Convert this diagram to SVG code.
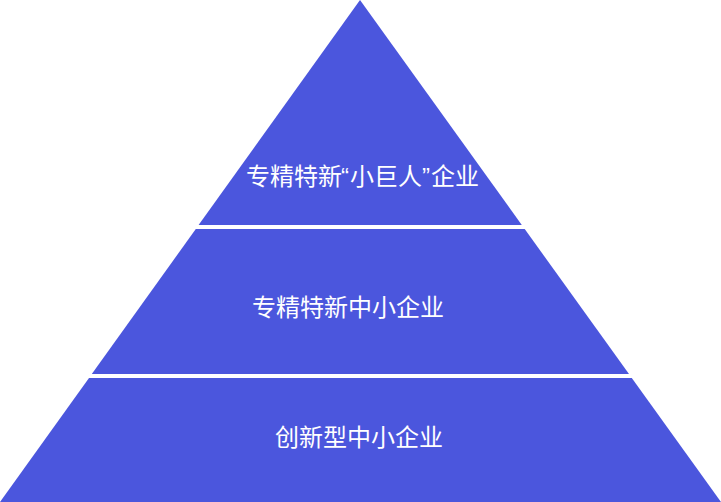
<svg xmlns="http://www.w3.org/2000/svg" width="721" height="502" viewBox="0 0 721 502">
<style>
.band{fill:#4B56DD}
.lbl{fill:#ffffff;font-family:"Noto Sans CJK SC","Liberation Sans",sans-serif;font-size:24px;text-anchor:middle}
.q{font-family:"Liberation Sans","Noto Sans CJK SC",sans-serif}
</style>
<rect width="721" height="502" fill="#ffffff"/>
<g id="top">
<polygon class="band" points="360,0 521.8,225 198.6,225"/>
<text class="lbl" y="185" style="text-anchor:start"><tspan x="246">专精特新</tspan><tspan class="q" x="341">“</tspan><tspan x="350">小巨人</tspan><tspan class="q" x="422">”</tspan><tspan x="431">企业</tspan></text>
</g>
<g id="middle">
<polygon class="band" points="195.8,229 524.7,229 629,374 91.8,374"/>
<text class="lbl" x="348" y="316">专精特新中小企业</text>
</g>
<g id="bottom">
<polygon class="band" points="89,378 631.8,378 721,502 0,502"/>
<text class="lbl" x="359" y="446">创新型中小企业</text>
</g>
<g id="connectors"></g>
</svg>
